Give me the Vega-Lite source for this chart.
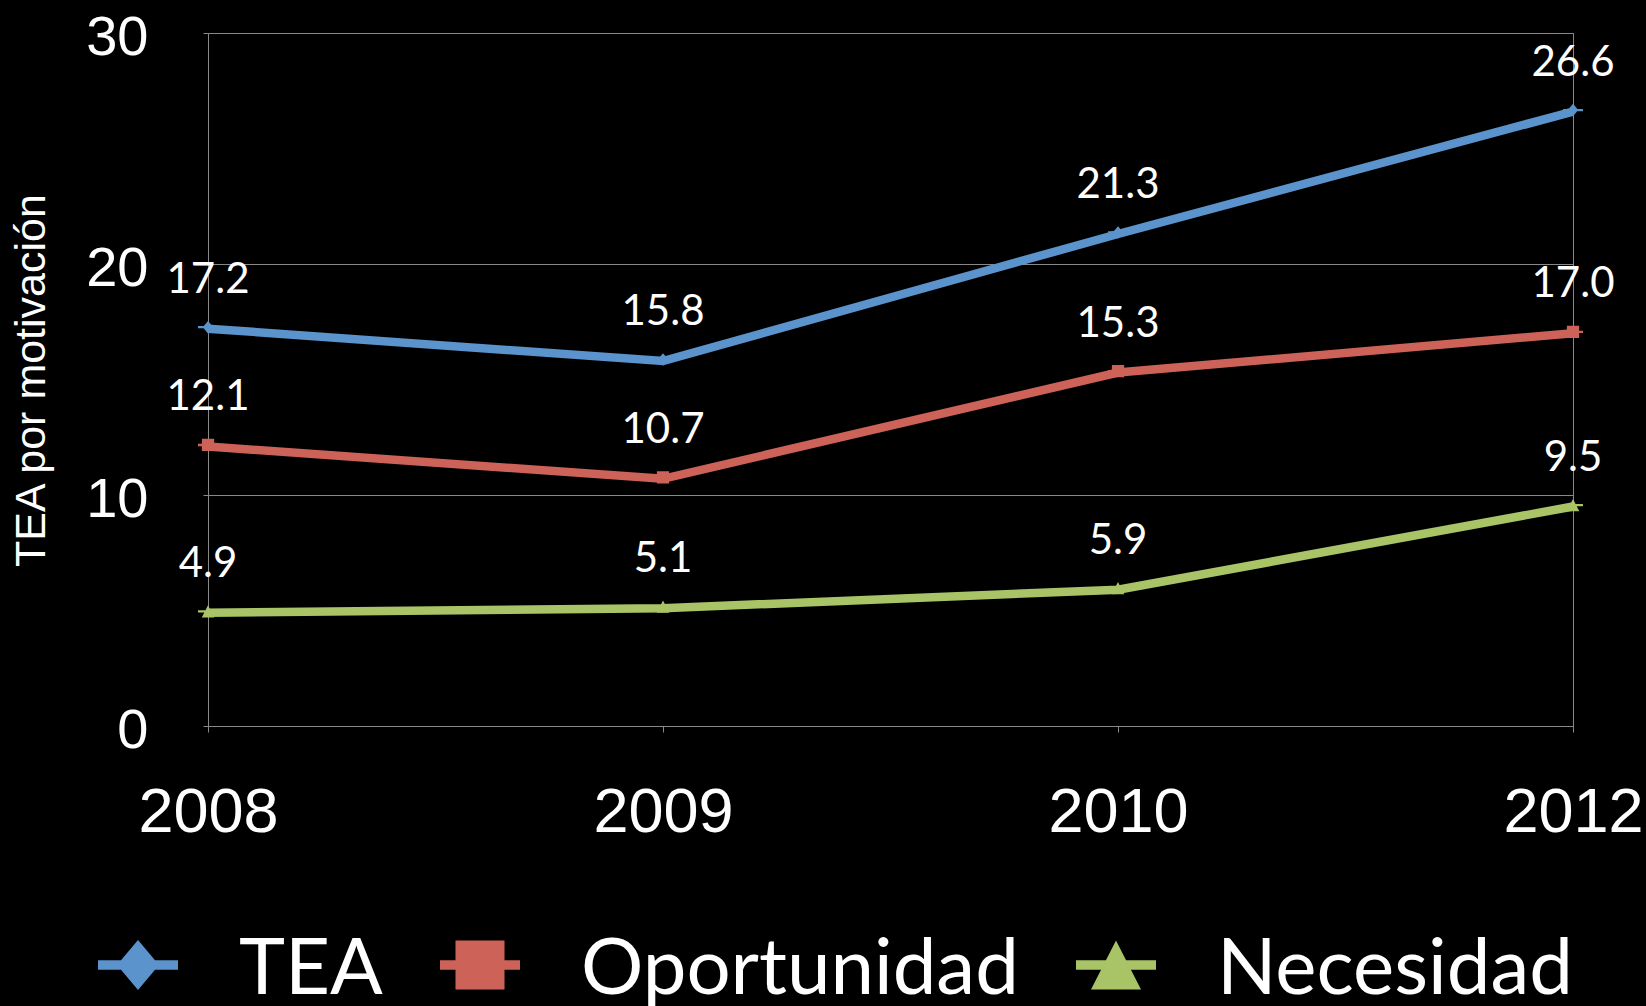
{
  "$schema": "https://vega.github.io/schema/vega-lite/v6.json",
  "width": 1365,
  "height": 693,
  "autosize": {"type": "none"},
  "padding": {"left": 208, "top": 33, "right": 73, "bottom": 280},
  "background": "black",
  "config": {
    "view": {"stroke": "#888888", "strokeWidth": 1},
    "axis": {"domainColor": "#888888", "tickColor": "#888888", "gridColor": "#888888", "labelColor": "white", "titleColor": "white", "domainWidth": 1, "tickWidth": 1, "gridWidth": 1}
  },
  "data": {
    "values": [
      {"year": "2008", "series": "TEA", "value": 17.2},
      {"year": "2009", "series": "TEA", "value": 15.8},
      {"year": "2010", "series": "TEA", "value": 21.3},
      {"year": "2012", "series": "TEA", "value": 26.6},
      {"year": "2008", "series": "Oportunidad", "value": 12.1},
      {"year": "2009", "series": "Oportunidad", "value": 10.7},
      {"year": "2010", "series": "Oportunidad", "value": 15.3},
      {"year": "2012", "series": "Oportunidad", "value": 17.0},
      {"year": "2008", "series": "Necesidad", "value": 4.9},
      {"year": "2009", "series": "Necesidad", "value": 5.1},
      {"year": "2010", "series": "Necesidad", "value": 5.9},
      {"year": "2012", "series": "Necesidad", "value": 9.5}
    ]
  },
  "encoding": {
    "x": {
      "field": "year", "type": "ordinal",
      "scale": {"type": "point", "padding": 0},
      "axis": {"labelAngle": 0, "labelFont": "Liberation Sans", "labelFontSize": 63, "labelPadding": 49, "tickSize": 6, "title": null, "grid": false}
    },
    "y": {
      "field": "value", "type": "quantitative",
      "scale": {"domain": [0, 30], "nice": false},
      "axis": {
        "values": [0, 10, 20, 30], "grid": true,
        "labelFont": "Liberation Sans", "labelFontSize": 56, "labelPadding": 55, "tickSize": 5, "labelOffset": 4, "labelBaseline": "middle",
        "title": "TEA por motivación", "titleFont": "Liberation Sans", "titleFontSize": 43, "titleFontWeight": "normal",
        "titleX": -164, "titleY": 347, "titleBaseline": "alphabetic", "titleAlign": "center", "titleAngle": 270
      }
    }
  },
  "layer": [
    {
      "mark": {"type": "line", "strokeWidth": 8.5},
      "encoding": {
        "color": {
          "field": "series", "type": "nominal",
          "scale": {"domain": ["TEA", "Oportunidad", "Necesidad"], "range": ["#5B93CC", "#CD6259", "#A9C466"]},
          "legend": {
            "orient": "none", "legendX": -110, "legendY": 898, "direction": "horizontal", "columns": 3,
            "title": null, "padding": 0,
            "labelFont": "Lato", "labelFontSize": 78, "labelColor": "white", "labelLimit": 1000, "labelOffset": 61,
            "labelExpr": "datum.label == 'Oportunidad' ? 'Oportunidad  ' : datum.label",
            "columnPadding": 57, "symbolSize": 6400, "symbolStrokeWidth": 0, "symbolOpacity": 1
          }
        }
      }
    },
    {
      "mark": {"type": "point", "filled": true, "size": 400, "opacity": 1},
      "encoding": {
        "color": {
          "field": "series", "type": "nominal",
          "scale": {"domain": ["TEA", "Oportunidad", "Necesidad"], "range": ["#5B93CC", "#CD6259", "#A9C466"]},
          "legend": {
            "orient": "none", "legendX": -110, "legendY": 898, "direction": "horizontal", "columns": 3,
            "title": null, "padding": 0,
            "labelFont": "Lato", "labelFontSize": 78, "labelColor": "white", "labelLimit": 1000, "labelOffset": 61,
            "labelExpr": "datum.label == 'Oportunidad' ? 'Oportunidad  ' : datum.label",
            "columnPadding": 57, "symbolSize": 6400, "symbolStrokeWidth": 0, "symbolOpacity": 1
          }
        },
        "shape": {
          "field": "series", "type": "nominal",
          "scale": {
            "domain": ["TEA", "Oportunidad", "Necesidad"],
            "range": [
              "M-1,-0.266H1V-0.034H-1Z M0,-0.775L0.525,-0.15L0,0.475L-0.525,-0.15Z",
              "M-1,-0.266H1V-0.034H-1Z M-0.6125,-0.7625H0.6125V0.4625H-0.6125Z",
              "M-1,-0.266H1V-0.034H-1Z M0,-0.7625L0.625,0.4625L-0.625,0.4625Z"
            ]
          },
          "legend": null
        }
      }
    },
    {
      "mark": {"type": "text", "dy": -36, "baseline": "alphabetic", "align": "center", "font": "Lato", "fontSize": 42, "color": "white"},
      "encoding": {
        "text": {"field": "value", "type": "quantitative", "format": ".1f"}
      }
    }
  ]
}
